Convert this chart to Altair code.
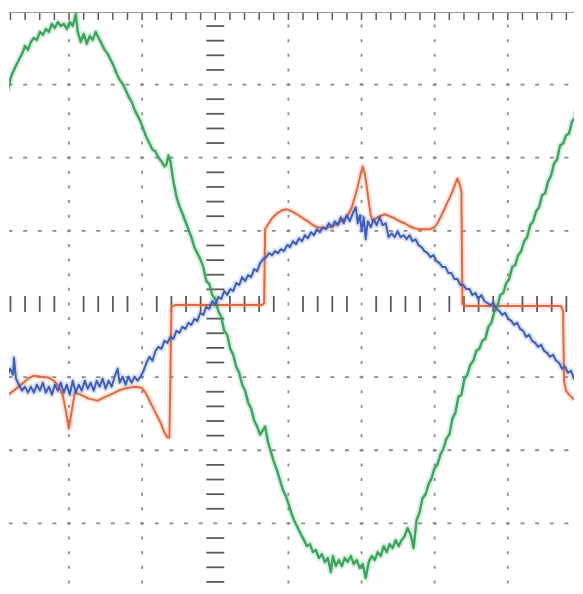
import altair as alt
import numpy as np
import pandas as pd

# ---- oscilloscope screen geometry (samples horizontally, ADC counts vertically)
DIV = 73.4            # samples per horizontal division = counts per vertical division
T0 = 215              # trigger / centre sample
T_MIN, T_MAX = 8, 575
V_MIN, V_MAX = -283, 293

# ---- channel 3 (green, sine voltage)
green_t = [0, 4, 7, 10, 14, 18, 22, 24, 27, 30,
           33, 36, 39, 42, 45, 48, 51, 54, 57, 60,
           63, 66, 69, 72, 75, 77, 80, 83, 86, 89,
           92, 95, 98, 101, 104, 107, 110, 113, 116, 119,
           122, 125, 128, 131, 134, 137, 140, 143, 146, 149,
           152, 155, 158, 161, 164, 166, 168, 170, 173, 176,
           179, 182, 185, 188, 191, 194, 197, 200, 203, 206,
           209, 212, 215, 218, 221, 224, 227, 230, 233, 236,
           239, 242, 245, 248, 251, 254, 257, 260, 265, 268,
           271, 274, 277, 280, 283, 286, 289, 292, 295, 298,
           301, 304, 307, 310, 313, 316, 319, 322, 325, 328,
           331, 333, 336, 339, 342, 345, 348, 351, 354, 357,
           360, 363, 366, 369, 372, 375, 378, 381, 384, 387,
           390, 393, 396, 399, 402, 405, 408, 411, 414, 417,
           420, 423, 426, 429, 432, 435, 438, 441, 444, 447,
           450, 453, 456, 459, 462, 465, 468, 471, 474, 477,
           480, 483, 486, 489, 492, 495, 498, 501, 504, 507,
           510, 513, 516, 519, 522, 525, 528, 531, 534, 537,
           540, 543, 546, 549, 552, 555, 558, 561, 564, 567,
           570, 573, 576, 579, 582]
green_v = [221, 225, 215, 228, 237, 245, 253, 259, 255, 263,
           267, 265, 273, 270, 276, 273, 281, 277, 283, 279,
           281, 276, 283, 279, 291, 273, 263, 271, 261, 269,
           265, 273, 267, 261, 255, 251, 245, 239, 231, 225,
           221, 215, 208, 203, 195, 189, 183, 175, 167, 161,
           155, 153, 147, 143, 138, 140, 149, 143, 123, 108,
           98, 91, 83, 75, 67, 57, 51, 45, 37, 23,
           20, 9, 5, -7, -13, -27, -31, -45, -51, -63,
           -69, -81, -87, -99, -105, -117, -123, -131, -123, -139,
           -149, -159, -167, -177, -187, -193, -202, -212, -219, -225,
           -231, -237, -243, -241, -249, -247, -255, -251, -259, -255,
           -269, -253, -263, -257, -263, -255, -259, -253, -261, -257,
           -265, -261, -275, -259, -253, -257, -249, -253, -243, -249,
           -241, -245, -237, -243, -237, -233, -225, -231, -245, -217,
           -209, -195, -191, -181, -175, -165, -161, -151, -145, -135,
           -131, -115, -109, -93, -91, -75, -71, -61, -57, -47,
           -45, -37, -35, -23, -19, -8, -3, 9, 11, 21,
           25, 37, 39, 49, 53, 63, 67, 79, 83, 93,
           97, 109, 111, 123, 129, 141, 145, 159, 161, 169,
           171, 183, 187, 201, 205]

# ---- channel 2 (blue, current)
blue_t = [0, 3, 6, 9, 12, 13, 15, 18, 21, 24,
          27, 30, 33, 36, 39, 42, 45, 48, 51, 54,
          57, 60, 63, 66, 69, 72, 75, 78, 81, 84,
          87, 90, 93, 96, 99, 102, 105, 108, 111, 114,
          117, 119, 122, 125, 128, 131, 134, 137, 140, 143,
          146, 149, 152, 155, 158, 161, 164, 167, 170, 173,
          176, 179, 182, 185, 188, 191, 194, 197, 200, 203,
          206, 209, 212, 215, 218, 221, 224, 227, 230, 233,
          236, 239, 242, 245, 248, 251, 254, 257, 260, 263,
          266, 269, 272, 275, 278, 281, 284, 287, 290, 293,
          296, 299, 302, 305, 308, 311, 314, 317, 320, 323,
          326, 329, 332, 335, 338, 341, 344, 347, 350, 353,
          356, 358, 360, 362, 364, 366, 368, 371, 374, 377,
          380, 383, 386, 389, 392, 395, 398, 401, 404, 407,
          410, 413, 416, 419, 422, 425, 428, 431, 434, 437,
          440, 443, 446, 449, 452, 455, 458, 461, 464, 467,
          470, 473, 476, 479, 482, 485, 488, 491, 494, 497,
          500, 503, 506, 509, 512, 515, 518, 521, 524, 527,
          530, 533, 536, 539, 542, 545, 548, 551, 554, 557,
          560, 563, 566, 569, 572, 575, 578, 582]
blue_v = [-69, -67, -73, -65, -71, -54, -75, -81, -87, -83,
          -89, -83, -89, -81, -87, -79, -89, -83, -91, -81,
          -87, -79, -89, -81, -91, -77, -89, -81, -87, -77,
          -85, -79, -87, -77, -83, -75, -85, -77, -83, -73,
          -65, -79, -73, -81, -73, -79, -73, -77, -73, -67,
          -59, -53, -57, -47, -43, -45, -37, -39, -33, -35,
          -27, -29, -23, -25, -19, -21, -15, -17, -9, -11,
          -3, -5, 3, -1, 7, 5, 13, 9, 15, 13,
          21, 19, 27, 23, 29, 27, 35, 33, 41, 45,
          47, 51, 49, 53, 51, 55, 53, 59, 57, 63,
          60, 66, 63, 69, 66, 72, 69, 75, 72, 77,
          75, 81, 77, 83, 79, 87, 81, 89, 83, 91,
          97, 81, 89, 73, 87, 65, 83, 77, 85, 79,
          87, 79, 81, 67, 71, 67, 73, 67, 69, 65,
          69, 63, 65, 59, 57, 53, 51, 47, 49, 43,
          41, 37, 37, 31, 31, 25, 25, 19, 19, 15,
          15, 9, 11, 5, 9, 3, 1, -1, 1, -5,
          -7, -11, -9, -15, -17, -21, -19, -25, -27, -33,
          -31, -37, -39, -43, -41, -47, -49, -53, -51, -57,
          -59, -65, -63, -69, -67, -75, -71, -77]

# ---- channel 1 (red, switched voltage)
red_t = [0, 10, 20, 27, 33, 40, 48, 53, 58, 62,
         65, 68, 71, 74, 80, 88, 97, 105, 112, 120,
         128, 135, 141, 145, 150, 155, 160, 164, 167, 169,
         171, 175, 200, 230, 262, 264, 265, 268, 272, 277,
         282, 287, 292, 297, 303, 308, 313, 318, 323, 328,
         333, 338, 343, 348, 352, 355, 358, 361, 363, 365,
         367, 369, 371, 373, 376, 380, 385, 390, 395, 400,
         405, 410, 415, 420, 425, 430, 435, 438, 441, 444,
         447, 450, 453, 456, 458, 460, 462, 463, 467, 500,
         530, 562, 564, 565, 567, 570, 574, 578, 582]
red_v = [-97, -89, -81, -75, -72, -73, -74, -77, -83, -92,
         -107, -125, -107, -89, -91, -95, -97, -93, -90, -86,
         -84, -83, -84, -89, -99, -109, -119, -129, -134, -134,
         -3, -1, -1, -1, -1, 1, 75, 80, 86, 91,
         94, 95, 93, 90, 86, 83, 79, 77, 76, 77,
         78, 81, 84, 89, 97, 107, 118, 131, 138, 131,
         118, 103, 89, 83, 86, 88, 90, 88, 86, 83,
         81, 78, 76, 75, 75, 75, 77, 81, 87, 93,
         100, 106, 113, 121, 126, 121, 113, 0, -2, -2,
         -2, -2, -7, -77, -87, -91, -95, -97, -98]

assert len(green_t) == len(green_v)
assert len(blue_t) == len(blue_v)
assert len(red_t) == len(red_v)

GREEN = "#3ba55c"
BLUE = "#3d5db8"
RED = "#e4673d"
GRID = "#8c8c8c"
TICK = "#5a5a5a"

xs = alt.Scale(domain=[T_MIN, T_MAX], nice=False, zero=False)
ys = alt.Scale(domain=[V_MIN, V_MAX], nice=False, zero=False)
MINOR = DIV / 5


def seg(df, color, width, **kw):
    return alt.Chart(df).mark_rule(color=color, strokeWidth=width, **kw).encode(
        x=alt.X("t1:Q", scale=xs, axis=None),
        x2="t2:Q",
        y=alt.Y("v1:Q", scale=ys, axis=None),
        y2="v2:Q",
    )


# dotted major grid
major_t = [T0 + k * DIV for k in (-2, -1, 1, 2, 3, 4)]
major_v = [k * DIV for k in (-3, -2, -1, 1, 2, 3)]
vgrid = seg(pd.DataFrame({"t1": major_t, "t2": major_t, "v1": V_MAX, "v2": V_MIN}),
            GRID, 1.8, strokeDash=[3, MINOR - 3], strokeDashOffset=2.1)
hgrid = seg(pd.DataFrame({"t1": T_MIN, "t2": T_MAX, "v1": major_v, "v2": major_v}),
            GRID, 1.8, strokeDash=[4, MINOR - 4], strokeDashOffset=0.5)

# minor tick positions
kt = np.arange(-14, 25)
minor_t = T0 + kt * MINOR
minor_t_c = T0 + kt[(kt % 5) != 0] * MINOR
kv = np.arange(-19, 21)
minor_v = kv * MINOR
minor_v_c = kv[(kv % 5) != 0] * MINOR

centre_col = seg(pd.DataFrame({"t1": T0 - 9, "t2": T0 + 9, "v1": minor_v_c, "v2": minor_v_c}),
                 TICK, 1.8)
centre_row = seg(pd.DataFrame({"t1": minor_t_c, "t2": minor_t_c, "v1": -8, "v2": 8}),
                 TICK, 1.8)
top_ticks = seg(pd.DataFrame({"t1": minor_t, "t2": minor_t, "v1": V_MAX, "v2": V_MAX - 8}),
                TICK, 1.5)
top_border = seg(pd.DataFrame({"t1": [T_MIN], "t2": [T_MAX], "v1": [V_MAX - 0.5], "v2": [V_MAX - 0.5]}),
                 "#9a9a9a", 1)


def trace(t, v, color, width):
    df = pd.DataFrame({"t": t, "v": v, "i": range(len(t))})
    enc = dict(
        x=alt.X("t:Q", scale=xs, axis=None),
        y=alt.Y("v:Q", scale=ys, axis=None),
        order=alt.Order("i:Q"),
    )
    halo = alt.Chart(df).mark_line(color=color, strokeWidth=width + 4, opacity=0.18,
                                   strokeJoin="round", clip=True).encode(**enc)
    line = alt.Chart(df).mark_line(color=color, strokeWidth=width,
                                   strokeJoin="round", clip=True).encode(**enc)
    return [halo, line]


layers = [vgrid, hgrid, centre_col, centre_row, top_ticks, top_border]
layers += trace(red_t, red_v, RED, 2.0)
layers += trace(green_t, green_v, GREEN, 2.4)
layers += trace(blue_t, blue_v, BLUE, 2.0)

chart = alt.layer(*layers).properties(
    width=567, height=576,
    padding={"left": 0, "top": 2, "right": 0, "bottom": 0},
    background="white",
).configure_view(stroke=None)

chart.save("out.html", embed_options={"renderer": "svg", "actions": False})
